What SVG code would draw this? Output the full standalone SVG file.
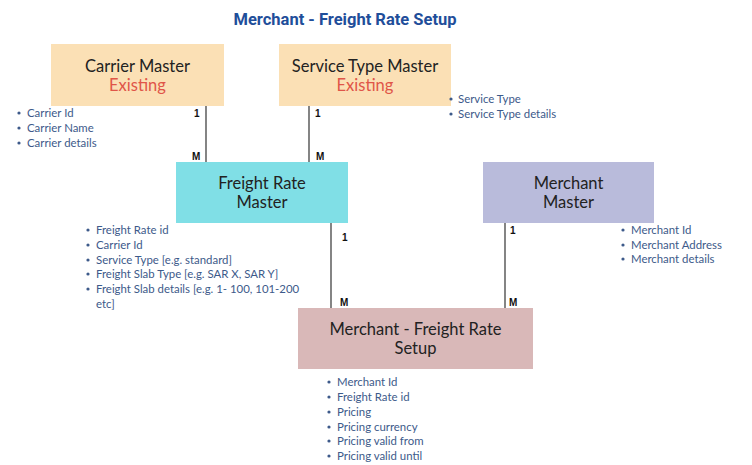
<svg xmlns="http://www.w3.org/2000/svg" width="752" height="465" viewBox="0 0 752 465">
<style>
.title{font-family:Roboto,"Liberation Sans",sans-serif;font-weight:700;font-size:16.5px;fill:#1f4e9a}
.box{stroke:none}
.bt{font-family:Lato,"Liberation Sans",sans-serif;font-size:16.5px;fill:#222;text-anchor:middle}
.ex{fill:#e05548}
.li{font-family:Lato,"Liberation Sans",sans-serif;font-size:11.4px;fill:#3d5a8a}
.bu{fill:#3d5a8a}
.card{font-family:"Liberation Sans",Arial,sans-serif;font-weight:700;font-size:10px;fill:#111}
.conn{stroke:#333;stroke-width:1.2;fill:none}
</style>
<rect width="752" height="465" fill="#fff"/>
<text class="title" x="345" y="25" text-anchor="middle">Merchant - Freight Rate Setup</text>

<g id="connectors">
<line class="conn" x1="206" y1="106" x2="206" y2="163"/>
<line class="conn" x1="309" y1="106" x2="309" y2="163"/>
<line class="conn" x1="331" y1="223" x2="331" y2="308"/>
<line class="conn" x1="505" y1="223" x2="505" y2="308"/>
<text class="card" x="194" y="117">1</text>
<text class="card" x="192" y="160">M</text>
<text class="card" x="315" y="117">1</text>
<text class="card" x="316" y="160">M</text>
<text class="card" x="342" y="241">1</text>
<text class="card" x="340" y="306">M</text>
<text class="card" x="510" y="234">1</text>
<text class="card" x="509" y="306">M</text>
</g>

<g id="carrier-master">
<rect class="box" x="51" y="44" width="173" height="62" fill="#fbe0b5"/>
<text class="bt" x="137.5" y="72">Carrier Master</text>
<text class="bt ex" x="137.5" y="91">Existing</text>
<g class="li">
<circle class="bu" cx="19" cy="113" r="1.6"/><text x="27" y="117">Carrier Id</text>
<circle class="bu" cx="19" cy="128" r="1.6"/><text x="27" y="132">Carrier Name</text>
<circle class="bu" cx="19" cy="143" r="1.6"/><text x="27" y="147">Carrier details</text>
</g>
</g>

<g id="service-type-master">
<rect class="box" x="279" y="44" width="172" height="62" fill="#fbe0b5"/>
<text class="bt" x="365" y="72">Service Type Master</text>
<text class="bt ex" x="365" y="91">Existing</text>
<g class="li">
<circle class="bu" cx="451" cy="99" r="1.6"/><text x="458" y="103">Service Type</text>
<circle class="bu" cx="451" cy="114" r="1.6"/><text x="458" y="118">Service Type details</text>
</g>
</g>

<g id="freight-rate-master">
<rect class="box" x="176" y="162" width="172" height="61" fill="#80dfe6"/>
<text class="bt" x="262" y="189">Freight Rate</text>
<text class="bt" x="262" y="208">Master</text>
<g class="li">
<circle class="bu" cx="88" cy="230" r="1.6"/><text x="96" y="234">Freight Rate id</text>
<circle class="bu" cx="88" cy="245" r="1.6"/><text x="96" y="249">Carrier Id</text>
<circle class="bu" cx="88" cy="260" r="1.6"/><text x="96" y="264">Service Type [e.g. standard]</text>
<circle class="bu" cx="88" cy="274" r="1.6"/><text x="96" y="278">Freight Slab Type [e.g. SAR X, SAR Y]</text>
<circle class="bu" cx="88" cy="289" r="1.6"/><text x="96" y="293">Freight Slab details [e.g. 1- 100, 101-200</text>
<text x="96" y="308">etc]</text>
</g>
</g>

<g id="merchant-master">
<rect class="box" x="483" y="162" width="171" height="61" fill="#b9bbdb"/>
<text class="bt" x="568.5" y="189">Merchant</text>
<text class="bt" x="568.5" y="208">Master</text>
<g class="li">
<circle class="bu" cx="623" cy="230" r="1.6"/><text x="631" y="234">Merchant Id</text>
<circle class="bu" cx="623" cy="245" r="1.6"/><text x="631" y="249">Merchant Address</text>
<circle class="bu" cx="623" cy="259" r="1.6"/><text x="631" y="263">Merchant details</text>
</g>
</g>

<g id="merchant-freight-rate-setup">
<rect class="box" x="298" y="308" width="235" height="61" fill="#d9b8b8"/>
<text class="bt" x="415.5" y="335">Merchant - Freight Rate</text>
<text class="bt" x="415.5" y="354">Setup</text>
<g class="li">
<circle class="bu" cx="329" cy="382" r="1.6"/><text x="337" y="386">Merchant Id</text>
<circle class="bu" cx="329" cy="397" r="1.6"/><text x="337" y="401">Freight Rate id</text>
<circle class="bu" cx="329" cy="412" r="1.6"/><text x="337" y="416">Pricing</text>
<circle class="bu" cx="329" cy="427" r="1.6"/><text x="337" y="431">Pricing currency</text>
<circle class="bu" cx="329" cy="441" r="1.6"/><text x="337" y="445">Pricing valid from</text>
<circle class="bu" cx="329" cy="456" r="1.6"/><text x="337" y="460">Pricing valid until</text>
</g>
</g>
</svg>
